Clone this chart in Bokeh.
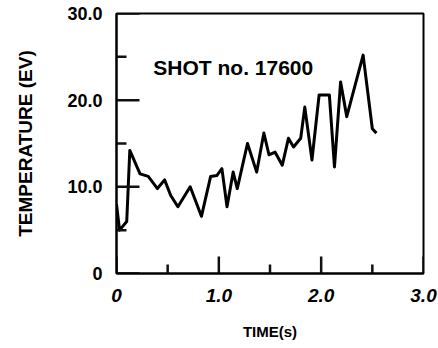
from bokeh.plotting import figure
from bokeh.models import Range1d, FixedTicker, Label
from bokeh.embed import file_html
from bokeh.resources import INLINE

time_s = [0.0, 0.03, 0.10, 0.13, 0.23, 0.31, 0.40, 0.47, 0.53, 0.60, 0.72, 0.83,
          0.92, 0.98, 1.03, 1.08, 1.14, 1.18, 1.28, 1.37, 1.44, 1.49, 1.55, 1.62,
          1.68, 1.73, 1.80, 1.84, 1.91, 1.98, 2.08, 2.13, 2.19, 2.25, 2.41, 2.50, 2.54]
temp_ev = [8.0, 5.0, 6.0, 14.2, 11.5, 11.2, 9.8, 10.8, 9.0, 7.7, 10.0, 6.6,
           11.2, 11.3, 12.1, 7.7, 11.7, 9.8, 15.0, 11.7, 16.2, 13.7, 14.0, 12.5,
           15.6, 14.6, 15.6, 19.2, 13.1, 20.6, 20.6, 12.3, 22.1, 18.1, 25.2, 16.7, 16.2]

x_ticks = [0, 1, 2, 3]
x_minor = [0.5, 1.5, 2.5]
x_labels = {0: "0", 1: "1.0", 2: "2.0", 3: "3.0"}
y_ticks = [0, 10, 20, 30]
y_minor = [5, 15, 25]
y_labels = {0: "0", 10: "10.0", 20: "20.0", 30: "30.0"}

X_MIN, X_MAX = 0, 3
Y_MIN, Y_MAX = 0, 30
W, H = 438, 348
BL, BR, BT, BB = 116, 15, 13, 75
FONT = "Liberation Sans"

px_x = (X_MAX - X_MIN) / (W - BL - BR)
px_y = (Y_MAX - Y_MIN) / (H - BT - BB)

p = figure(width=W, height=H, output_backend="svg", toolbar_location=None,
           x_range=Range1d(X_MIN, X_MAX), y_range=Range1d(Y_MIN, Y_MAX),
           min_border_left=BL, min_border_right=BR, min_border_top=BT, min_border_bottom=BB)
p.grid.visible = False
p.outline_line_color = "black"
p.outline_line_width = 2
p.background_fill_color = "white"
p.border_fill_color = "white"

p.line(time_s, temp_ev, line_color="black", line_width=3, line_join="round")

# inward tick marks, drawn as one multi_line through the tick arrays
tick_xs, tick_ys = [], []
for v, L in [(v, 23) for v in y_ticks] + [(v, 10) for v in y_minor]:
    tick_xs.append([X_MIN, X_MIN + L * px_x])
    tick_ys.append([v, v])
for v, L in [(v, 17) for v in x_ticks] + [(v, 9) for v in x_minor]:
    tick_xs.append([v, v])
    tick_ys.append([Y_MIN, Y_MIN + L * px_y])
p.multi_line(tick_xs, tick_ys, line_color="#111111", line_width=2.5)

for ax in (p.xaxis[0], p.yaxis[0]):
    ax.axis_line_width = 2
    ax.major_tick_out = 0
    ax.minor_tick_out = 0
    ax.major_tick_in = 0
    ax.minor_tick_in = 0
    ax.major_label_text_font = FONT
    ax.major_label_text_color = "black"
    ax.axis_label_text_font = FONT
    ax.axis_label_text_font_style = "bold"
    ax.axis_label_text_color = "black"

xa = p.xaxis[0]
xa.ticker = FixedTicker(ticks=x_ticks, minor_ticks=x_minor)
xa.major_label_overrides = x_labels
xa.major_label_text_font_size = "19px"
xa.major_label_text_font_style = "bold italic"
xa.major_label_standoff = 15
xa.axis_label = "TIME(s)"
xa.axis_label_text_font_size = "15px"
xa.axis_label_standoff = 18

ya = p.yaxis[0]
ya.ticker = FixedTicker(ticks=y_ticks, minor_ticks=y_minor)
ya.major_label_overrides = y_labels
ya.major_label_text_font_size = "18px"
ya.major_label_text_font_style = "bold"
ya.major_label_standoff = 14
ya.axis_label = "TEMPERATURE (EV)"
ya.axis_label_text_font_size = "19px"
ya.axis_label_standoff = 28

p.add_layout(Label(x=0.36, y=23.8, text="SHOT no. 17600", text_font=FONT,
                   text_font_style="bold", text_font_size="21px",
                   text_baseline="alphabetic", text_color="black"))

open("out.html", "w").write(file_html(p, INLINE))
